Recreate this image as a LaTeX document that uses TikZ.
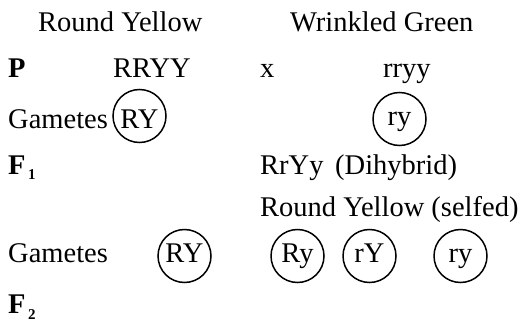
\documentclass[tikz,border=0pt]{standalone}
\usepackage{fontspec}
\setmainfont{Liberation Serif}
\usepackage{tikz}
\usetikzlibrary{positioning}

\begin{document}
\begin{tikzpicture}[x=1pt,y=-1pt,
  every node/.style={inner sep=0pt,font=\fontsize{28.5}{34}\selectfont},
  lbl/.style={anchor=base west},
  gen/.style={anchor=base west,font=\fontsize{28.5}{34}\selectfont\bfseries},
  subs/.style={anchor=base west,font=\fontsize{15}{18}\selectfont\bfseries},
  gam/.style={draw,circle,line width=1.5pt,minimum size=53pt,
    text height=20pt,text depth=7pt}]
  \useasboundingbox (0,0) rectangle (521,321);
  % phenotypes of parents
  \node[lbl] (ph1) at (38,31) {Round Yellow};
  \node[lbl] (ph2) at (290,31) {Wrinkled Green};

  % --- P ---
  \node[gen] (P) at (8,77) {P};
  \node[lbl] (p1) at (113,77) {RRYY};
  \node[lbl] (cross) at (260,77) {x};
  \node[lbl] (p2) at (383,77) {rryy};

  % --- gametes of P ---
  \node[lbl] (gm1) at (8,128) {Gametes};
  \node[gam,text height=24pt,text depth=0pt] (g1) at (139.5,116) {RY};
  \node[gam] (g2) at (399.5,119) {ry};

  % --- F1 ---
  \node[gen] (F1) at (8,174) {F};
  \node[subs] (F1s) at (28,179) {1};
  \node[lbl] (f1) at (260,174) {RrYy};
  \node[lbl] (dih) at (335,174) {(Dihybrid)};
  \node[lbl] (self) at (260,216) {Round Yellow (selfed)};

  % --- gametes of F1 ---
  \node[lbl] (gm2) at (8,262) {Gametes};
  \node[gam] (h1) at (184.5,256) {RY};
  \node[gam] (h2) at (297.5,256) {Ry};
  \node[gam] (h3) at (369.5,256) {rY};
  \node[gam] (h4) at (460.5,256) {ry};

  % --- F2 ---
  \node[gen] (F2) at (8,313) {F};
  \node[subs] (F2s) at (28,319) {2};
\end{tikzpicture}
\end{document}
